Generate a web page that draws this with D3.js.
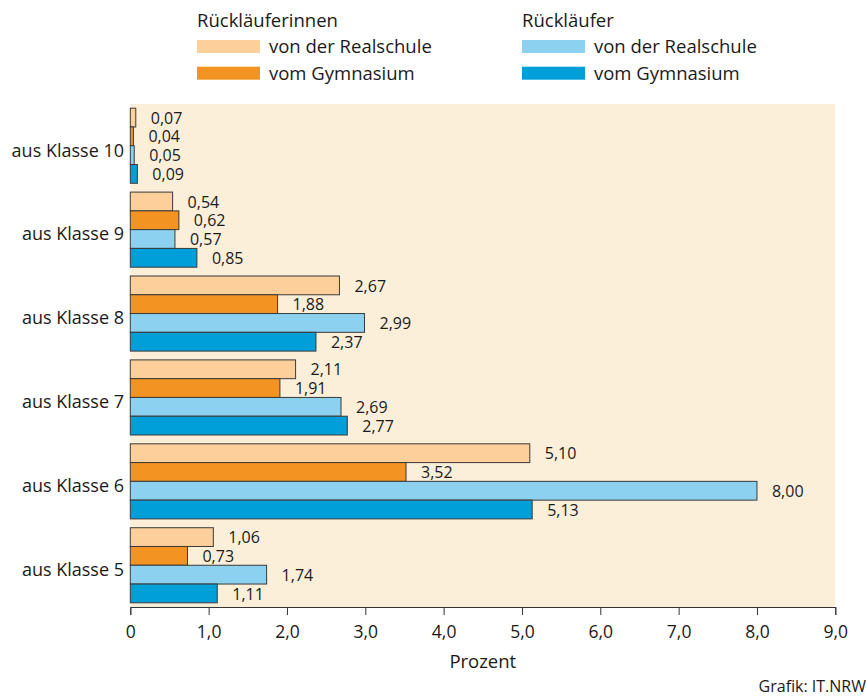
<!DOCTYPE html>
<html><head><meta charset="utf-8">
<script src="https://cdn.jsdelivr.net/npm/d3@7"></script>
<style>body{margin:0;background:#fff;} text{font-family:"Open Sans",sans-serif;fill:#1a1a1a;}</style>
</head><body>
<svg id="c" width="866" height="697"></svg>
<script>
const categories = ["aus Klasse 10","aus Klasse 9","aus Klasse 8","aus Klasse 7","aus Klasse 6","aus Klasse 5"];
const seriesNames = ["Rückläuferinnen von der Realschule","Rückläuferinnen vom Gymnasium","Rückläufer von der Realschule","Rückläufer vom Gymnasium"];
const femaleReal = [0.07,0.54,2.67,2.11,5.10,1.06];
const femaleGym  = [0.04,0.62,1.88,1.91,3.52,0.73];
const maleReal   = [0.05,0.57,2.99,2.69,8.00,1.74];
const maleGym    = [0.09,0.85,2.37,2.77,5.13,1.11];
const xTicks = [0,1,2,3,4,5,6,7,8,9];
const colors = ["#fdd09b","#f39322","#8dd1f0","#009fda"];
const seriesValues = [femaleReal,femaleGym,maleReal,maleGym];

const svg = d3.select("#c");
const pL = 130.3, pR = 835.3, pT = 104, pB = 607;
const x = d3.scaleLinear().domain([0,9]).range([pL,pR]);
const y = d3.scaleBand().domain(categories).range([pT,pB]).paddingInner(0.105).paddingOuter(0.05);
const ys = d3.scaleBand().domain(d3.range(4)).range([0,y.bandwidth()]);
const fmt = v => d3.format(".2f")(v).replace(".",",");

svg.append("rect").attr("x",pL).attr("y",pT).attr("width",pR-pL).attr("height",pB-pT).attr("fill","#fcefda");

const g = svg.append("g");
categories.forEach((c,i)=>{
  const gg = g.append("g").attr("transform",`translate(0,${y(c)})`);
  seriesValues.forEach((vals,s)=>{
    gg.append("rect").attr("x",x(0)).attr("y",ys(s)).attr("width",x(vals[i])-x(0)).attr("height",ys.bandwidth())
      .attr("fill",colors[s]).attr("stroke","#3a3a3a").attr("stroke-width",1);
    gg.append("text").attr("x",x(vals[i])+15).attr("y",ys(s)+ys.bandwidth()/2+0.5).attr("dy","0.35em")
      .attr("font-size",16).text(fmt(vals[i]));
  });
  svg.append("text").attr("x",124).attr("y",y(c)+y.bandwidth()/2+4.5).attr("dy","0.35em").attr("text-anchor","end")
    .attr("font-size",18).text(c);
});

const ax = svg.append("g").attr("transform",`translate(0,${pB})`)
  .call(d3.axisBottom(x).tickValues(xTicks).tickSize(8).tickFormat(d=> d===0?"0":d3.format(".1f")(d).replace(".",",")));
ax.select(".domain").attr("stroke","#333");
ax.selectAll(".tick line").attr("stroke","#333");
ax.selectAll(".tick text").attr("font-size",17.5).attr("font-family","Open Sans").attr("fill","#1a1a1a").attr("y",31).attr("dy",0);

svg.append("text").attr("x",(pL+pR)/2).attr("y",668).attr("text-anchor","middle").attr("font-size",18.5).text("Prozent");
svg.append("text").attr("x",866).attr("y",691.5).attr("text-anchor","end").attr("font-size",16).text("Grafik: IT.NRW");

// legend
const legTitles = ["Rückläuferinnen","Rückläufer"];
const legLabels = ["von der Realschule","vom Gymnasium"];
const legX = [197,522];
legTitles.forEach((t,k)=>{
  svg.append("text").attr("x",legX[k]).attr("y",26.7).attr("font-size",18.5).text(t);
  legLabels.forEach((l,j)=>{
    const yy = 40 + j*26.7;
    svg.append("rect").attr("x",legX[k]).attr("y",yy).attr("width",63).attr("height",13).attr("fill",colors[k*2+j]);
    svg.append("text").attr("x",legX[k]+72).attr("y",yy+6.5).attr("dy","0.35em").attr("font-size",18.5).text(l);
  });
});
</script>
</body></html>
